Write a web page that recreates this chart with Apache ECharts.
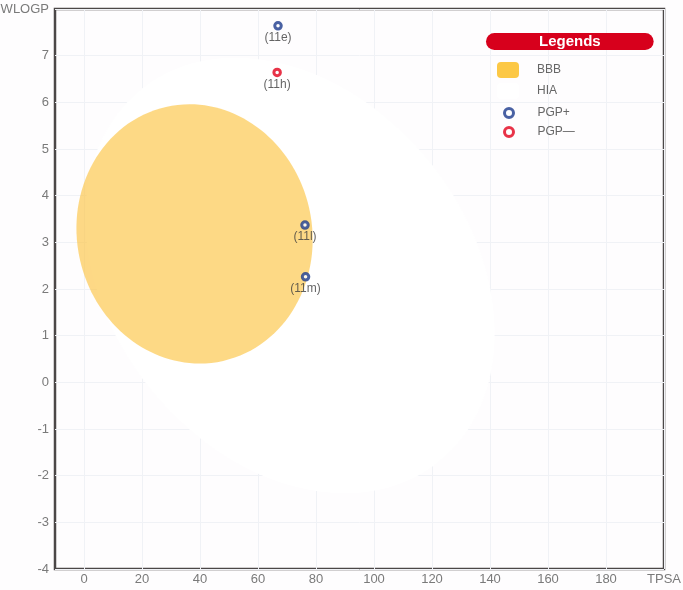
<!DOCTYPE html>
<html>
<head>
<meta charset="utf-8">
<script src="https://cdn.jsdelivr.net/npm/echarts@6/dist/echarts.min.js"></script>
<style>
  html, body { margin: 0; padding: 0; background: #fefdfe; }
  #boiled { width: 683px; height: 590px; }
</style>
</head>
<body>
<div id="boiled"></div>
<script>
// tick labels
const tpsaTicks = [0, 20, 40, 60, 80, 100, 120, 140, 160, 180, 200]

// egg regions: [TPSA centre, WLOGP centre, minor half-axis (TPSA), major half-axis (WLOGP), tilt deg]
const hiaEgg = [71.05, 2.29, 62.1, 5.11, 38.4]
const bbbEgg = [38.12, 3.18, 40.5, 2.79, 12.7]

// molecules
const pgpPlusNames = ['(11e)', '(11l)', '(11m)']
const pgpPlusTpsa = [66.9, 76.2, 76.4]
const pgpPlusWlogp = [7.64, 3.37, 2.26]

const pgpMinusNames = ['(11h)']
const pgpMinusTpsa = [66.6]
const pgpMinusWlogp = [6.64]

const FONT = 'Liberation Sans'

const chart = echarts.init(document.getElementById('boiled'))

function eggItem(fill) {
  return function (params, api) {
    const c = api.coord([api.value(0), api.value(1)])
    const s = api.size([api.value(2), api.value(3)])
    return {
      type: 'ellipse',
      x: c[0],
      y: c[1],
      rotation: api.value(4) * Math.PI / 180,
      shape: { cx: 0, cy: 0, rx: s[0], ry: s[1] },
      style: { fill: fill }
    }
  }
}

function pts(names, xs, ys) {
  return names.map((n, i) => ({ name: n, value: [xs[i], ys[i]] }))
}

const pointLabel = {
  show: true,
  position: 'bottom',
  distance: 1,
  formatter: '{b}',
  color: '#3d3d3d',
  fontSize: 12,
  fontFamily: FONT
}

chart.setOption({
  backgroundColor: '#fefdfe',
  animation: false,
  title: {
    text: 'Legends',
    left: 486,
    top: 33,
    padding: [1, 53],
    backgroundColor: '#d7001c',
    borderRadius: 9,
    textStyle: { color: '#fff', fontSize: 15, fontWeight: 'bold', fontFamily: FONT }
  },
  legend: [
    {
      orient: 'vertical',
      left: 497,
      top: 62,
      padding: 0,
      itemWidth: 22,
      itemHeight: 16,
      itemGap: 5,
      selectedMode: false,
      textStyle: { color: '#666', fontSize: 12, fontFamily: FONT, padding: [0, 0, 0, 13] },
      data: [
        { name: 'BBB', icon: 'roundRect', itemStyle: { color: '#fcc845' } },
        { name: 'HIA', icon: 'roundRect', itemStyle: { color: '#ffffff' } }
      ]
    },
    {
      orient: 'vertical',
      left: 503,
      top: 107,
      padding: 0,
      itemWidth: 9,
      itemHeight: 9,
      itemGap: 7,
      selectedMode: false,
      textStyle: { color: '#666', fontSize: 12, fontFamily: FONT, padding: [0, 0, 0, 19] },
      data: [
        { name: 'PGP+', icon: 'circle', itemStyle: { color: '#fff', borderColor: '#1c3a8c', borderWidth: 3 } },
        { name: 'PGP\u2014', icon: 'circle', itemStyle: { color: '#fff', borderColor: '#e2001a', borderWidth: 3 } }
      ]
    }
  ],
  grid: {
    left: 55,
    right: 19,
    top: 9,
    bottom: 21,
    outerBoundsMode: 'none',
    containLabel: false,
    show: true,
    backgroundColor: 'transparent',
    borderColor: '#4b4747',
    borderWidth: 2.5
  },
  xAxis: {
    type: 'value',
    min: -10,
    max: 200,
    axisLine: { show: false },
    axisTick: { show: false, customValues: tpsaTicks },
    axisLabel: {
      customValues: tpsaTicks,
      color: '#7a7a7a',
      fontSize: 13,
      fontFamily: FONT,
      margin: 4,
      formatter: v => (v === 200 ? 'TPSA' : String(v))
    },
    splitLine: { show: true, lineStyle: { color: '#f0f2f6', width: 1 } }
  },
  yAxis: {
    type: 'value',
    min: -4,
    max: 8,
    interval: 1,
    axisLine: { show: false },
    axisTick: { show: false },
    axisLabel: {
      color: '#7a7a7a',
      fontSize: 13,
      fontFamily: FONT,
      margin: 6,
      formatter: v => (v === 8 ? 'WLOGP' : String(v))
    },
    splitLine: { show: true, lineStyle: { color: '#f0f2f6', width: 1 } }
  },
  series: [
    {
      name: 'HIA',
      type: 'custom',
      silent: true,
      itemStyle: { color: '#ffffff' },
      renderItem: eggItem('#ffffff'),
      data: [hiaEgg],
      z: 1
    },
    {
      name: 'BBB',
      type: 'custom',
      silent: true,
      itemStyle: { color: '#fcc845' },
      renderItem: eggItem('rgba(252, 196, 64, 0.64)'),
      data: [bbbEgg],
      z: 2
    },
    {
      name: 'PGP+',
      type: 'scatter',
      symbol: 'circle',
      symbolSize: 6.5,
      itemStyle: { color: '#fff', borderColor: '#1c3a8c', borderWidth: 3 },
      label: pointLabel,
      data: pts(pgpPlusNames, pgpPlusTpsa, pgpPlusWlogp),
      z: 3
    },
    {
      name: 'PGP\u2014',
      type: 'scatter',
      symbol: 'circle',
      symbolSize: 6.5,
      itemStyle: { color: '#fff', borderColor: '#e2001a', borderWidth: 3 },
      label: pointLabel,
      data: pts(pgpMinusNames, pgpMinusTpsa, pgpMinusWlogp),
      z: 3
    }
  ]
})
</script>
</body>
</html>
